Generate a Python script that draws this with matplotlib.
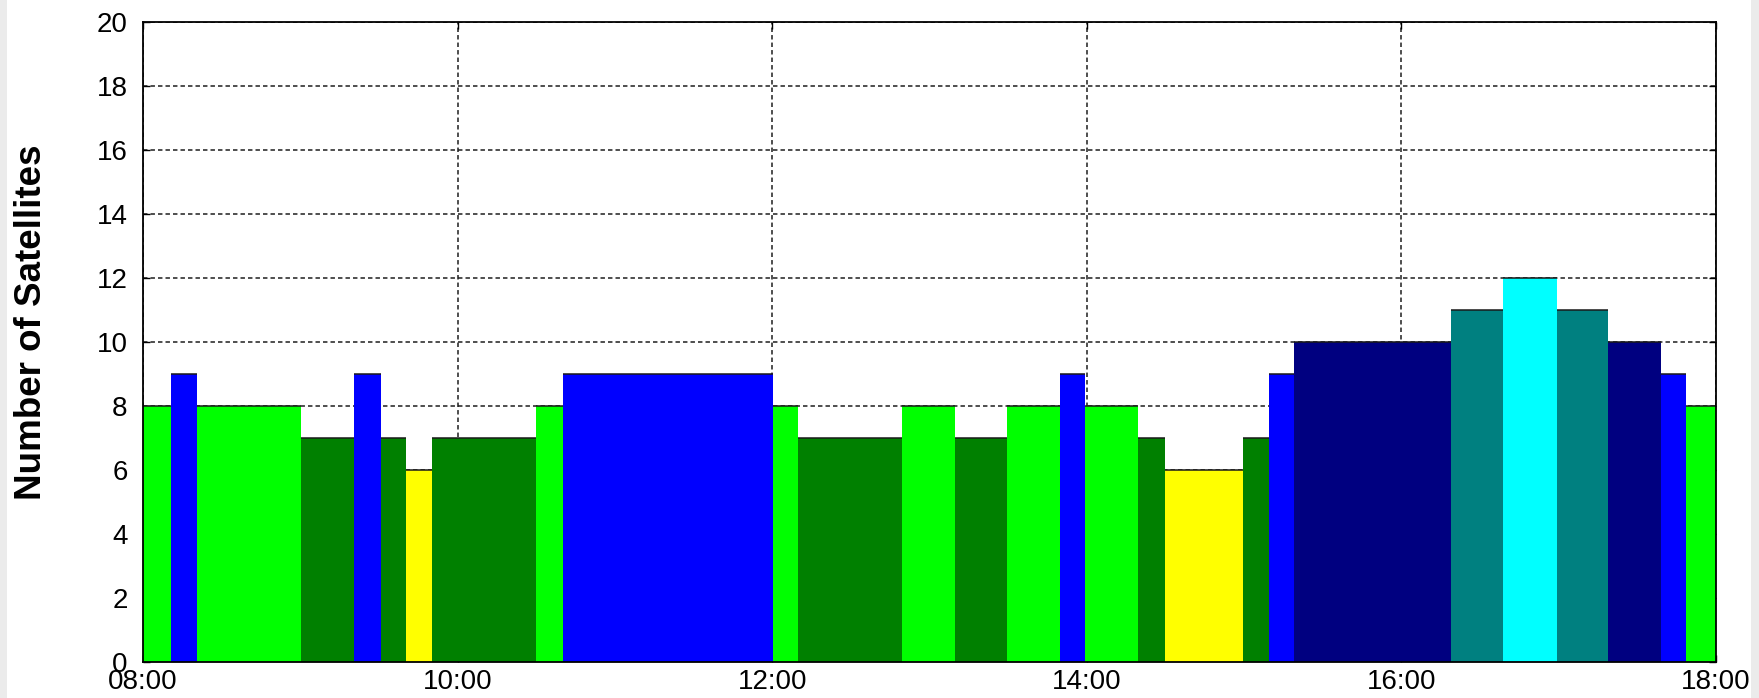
import matplotlib
matplotlib.use("Agg")
import matplotlib.pyplot as plt
from matplotlib.patches import Rectangle
import numpy as np

# Interval boundaries (clock hours) and satellite counts per interval
edges = [8.0, 8.178, 8.341, 9.004, 9.34, 9.512, 9.671, 9.838, 10.501, 10.67,
         12.005, 12.163, 12.824, 13.165, 13.49, 13.83, 13.989, 14.326, 14.497,
         14.99, 15.156, 15.32, 16.318, 16.647, 16.988, 17.315, 17.652, 17.811, 18.0]
counts = [8, 9, 8, 7, 9, 7, 6, 7, 8, 9, 8, 7, 8, 7, 8, 9, 8, 7, 6, 7, 9, 10,
          11, 12, 11, 10, 9, 8]

count_colors = {6: "#FFFF00", 7: "#008000", 8: "#00FF00", 9: "#0000FF",
                10: "#000080", 11: "#008080", 12: "#00FFFF"}

x_ticks = [8, 10, 12, 14, 16, 18]
x_labels = ["08:00", "10:00", "12:00", "14:00", "16:00", "18:00"]
y_ticks = list(range(0, 21, 2))

plt.rcParams["font.family"] = ["Liberation Sans", "DejaVu Sans"]
plt.rcParams["lines.scale_dashes"] = False

W, H = 1759, 698
fig = plt.figure(figsize=(W / 100, H / 100), dpi=100)
fig.patch.set_facecolor("white")
fig.patches.append(Rectangle((0, 0), 7 / W, 1, transform=fig.transFigure,
                             facecolor="#EBEBEB", edgecolor="none", zorder=-10))
fig.patches.append(Rectangle((1751 / W, 0), 1 - 1751 / W, 1, transform=fig.transFigure,
                             facecolor="#EBEBEB", edgecolor="none", zorder=-10))

left, right = 143 / W, 1716 / W
bottom, top = 1 - 661.7 / H, 1 - 21.7 / H
ax = fig.add_axes([left, bottom, right - left, top - bottom])

e = np.array(edges)
widths = np.diff(e)
colors = [count_colors[c] for c in counts]
ax.bar(e[:-1], counts, width=widths, align="edge", color=colors,
       linewidth=0, zorder=2)
ax.hlines(counts, e[:-1], e[1:], colors="#1a1a1a", linewidth=1.1, zorder=3)

ax.set_xlim(8, 18)
ax.set_ylim(0, 20)
ax.set_xticks(x_ticks)
ax.set_xticklabels(x_labels)
ax.set_yticks(y_ticks)

ax.grid(True, color="#1e1e1e", linestyle=(0, (3.2, 2.2)), linewidth=1.1, zorder=1)
ax.set_axisbelow(True)

ax.tick_params(axis="both", direction="in", length=5, width=1.0,
               top=True, right=True, labelsize=20, colors="black")
ax.tick_params(axis="y", pad=11)
ax.tick_params(axis="x", pad=5)
for s in ax.spines.values():
    s.set_linewidth(1.3)
    s.set_color("black")
    s.set_zorder(5)

fig.text(32 / W, 1 - 322 / H, "Number of Satellites", rotation=90,
         ha="center", va="center", fontsize=26.5, fontweight="bold", color="black")

fig.savefig("out.png", dpi=100)
